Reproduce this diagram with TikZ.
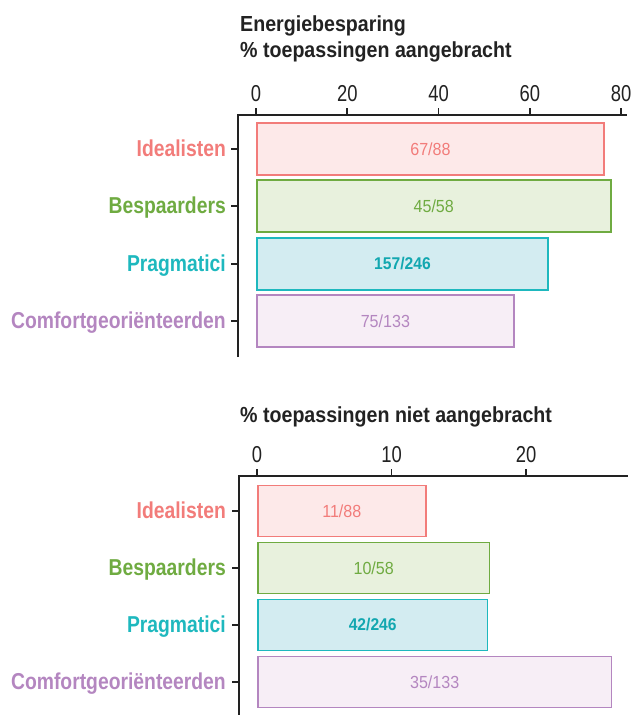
\documentclass[tikz,border=0pt]{standalone}
\usepackage{fontspec}
\setmainfont{Liberation Sans}
\newfontfamily\labfont{Liberation Sans}[FakeStretch=0.84]
\newfontfamily\titfont{Liberation Sans}[FakeStretch=0.9]
\newfontfamily\tickfont{Liberation Sans}[FakeStretch=0.8]
\newfontfamily\barfont{Liberation Sans}[FakeStretch=0.92]
\definecolor{cRed}{HTML}{F27C7A}
\definecolor{cRedF}{HTML}{FDE9E9}
\definecolor{cGreen}{HTML}{6FAB41}
\definecolor{cGreenF}{HTML}{E8F1DD}
\definecolor{cTeal}{HTML}{1EB8BE}
\definecolor{cTealT}{HTML}{12A7B0}
\definecolor{cTealF}{HTML}{D3ECF1}
\definecolor{cPurp}{HTML}{B486C0}
\definecolor{cPurpF}{HTML}{F7EEF6}
\definecolor{cAxis}{HTML}{222222}
\begin{document}
\begin{tikzpicture}[x=1pt,y=-1pt,
  axisline/.style={draw=cAxis,line width=1.8pt},
  tickline/.style={draw=cAxis,line width=1.6pt},
  ticklab/.style={anchor=base,inner sep=0pt,text=cAxis,font=\tickfont\fontsize{23}{26}\selectfont},
  grouplab/.style={anchor=base east,inner sep=0pt,font=\labfont\bfseries\fontsize{23}{26}\selectfont},
  titlelab/.style={anchor=base west,inner sep=0pt,text=cAxis,font=\titfont\bfseries\fontsize{21.8}{24}\selectfont},
  barbox/.style={anchor=west,rectangle,line width=1.5pt,inner sep=0pt,font=\barfont\fontsize{17.5}{20}\selectfont},
  redbar/.style={barbox,draw=cRed,fill=cRedF,text=cRed},
  greenbar/.style={barbox,draw=cGreen,fill=cGreenF,text=cGreen},
  tealbar/.style={barbox,draw=cTeal,fill=cTealF,text=cTealT,line width=1.8pt,font=\barfont\bfseries\fontsize{17}{20}\selectfont},
  purpbar/.style={barbox,draw=cPurp,fill=cPurpF,text=cPurp},
]
\useasboundingbox (0,0) rectangle (633,715);

% ---------- top chart ----------
\node[titlelab] (t1) at (240,31.7) {Energiebesparing};
\node[titlelab] (t2) at (240,57.7) {\% toepassingen aangebracht};

\coordinate (a1o) at (238,115);
\coordinate (a1x) at (627,115);
\coordinate (a1y) at (238,357);
\draw[axisline] (a1y) -- (a1o) -- (a1x);

\foreach \v in {0,20,40,60,80}{
  \pgfmathsetmacro{\xx}{256+4.5625*\v}
  \draw[tickline] (\xx,108) -- (\xx,115);
  \node[ticklab] (tk1-\v) at (\xx,101.7) {\v};
}
\foreach \yy in {149,206,264,321}{
  \draw[tickline] (231,\yy) -- (238,\yy);
}

\node[grouplab,text=cRed]   (g1a) at (226,156) {Idealisten};
\node[grouplab,text=cGreen] (g1b) at (226,213) {Bespaarders};
\node[grouplab,text=cTeal]  (g1c) at (226,271) {Pragmatici};
\node[grouplab,text=cPurp]  (g1d) at (226,328) {Comfortgeoriënteerden};

\node[redbar,  minimum width=347.4pt,minimum height=52pt] (b1a) at (256,149) {67/88};
\node[greenbar,minimum width=354.0pt,minimum height=52pt] (b1b) at (256,206) {45/58};
\node[tealbar, minimum width=291.2pt,minimum height=52pt] (b1c) at (256,264) {157/246};
\node[purpbar, minimum width=257.3pt,minimum height=52pt] (b1d) at (256,321) {75/133};

% ---------- bottom chart ----------
\node[titlelab] (t3) at (240,422.3) {\% toepassingen niet aangebracht};

\coordinate (a2o) at (239,476);
\coordinate (a2x) at (628,476);
\coordinate (a2y) at (239,716);
\draw[axisline] (a2y) -- (a2o) -- (a2x);

\foreach \v in {0,10,20}{
  \pgfmathsetmacro{\xx}{257+13.45*\v}
  \draw[tickline] (\xx,469) -- (\xx,476);
  \node[ticklab] (tk2-\v) at (\xx,462.7) {\v};
}
\foreach \yy in {511,568,625,682}{
  \draw[tickline] (232,\yy) -- (239,\yy);
}

\node[grouplab,text=cRed]   (g2a) at (226,518) {Idealisten};
\node[grouplab,text=cGreen] (g2b) at (226,575) {Bespaarders};
\node[grouplab,text=cTeal]  (g2c) at (226,632) {Pragmatici};
\node[grouplab,text=cPurp]  (g2d) at (226,689) {Comfortgeoriënteerden};

\node[redbar,  minimum width=168.1pt,minimum height=51pt] (b2a) at (257,511) {11/88};
\node[greenbar,minimum width=231.9pt,minimum height=51pt] (b2b) at (257,568) {10/58};
\node[tealbar, minimum width=229.6pt,minimum height=51pt] (b2c) at (257,625) {42/246};
\node[purpbar, minimum width=353.9pt,minimum height=51pt] (b2d) at (257,682) {35/133};
\end{tikzpicture}
\end{document}
